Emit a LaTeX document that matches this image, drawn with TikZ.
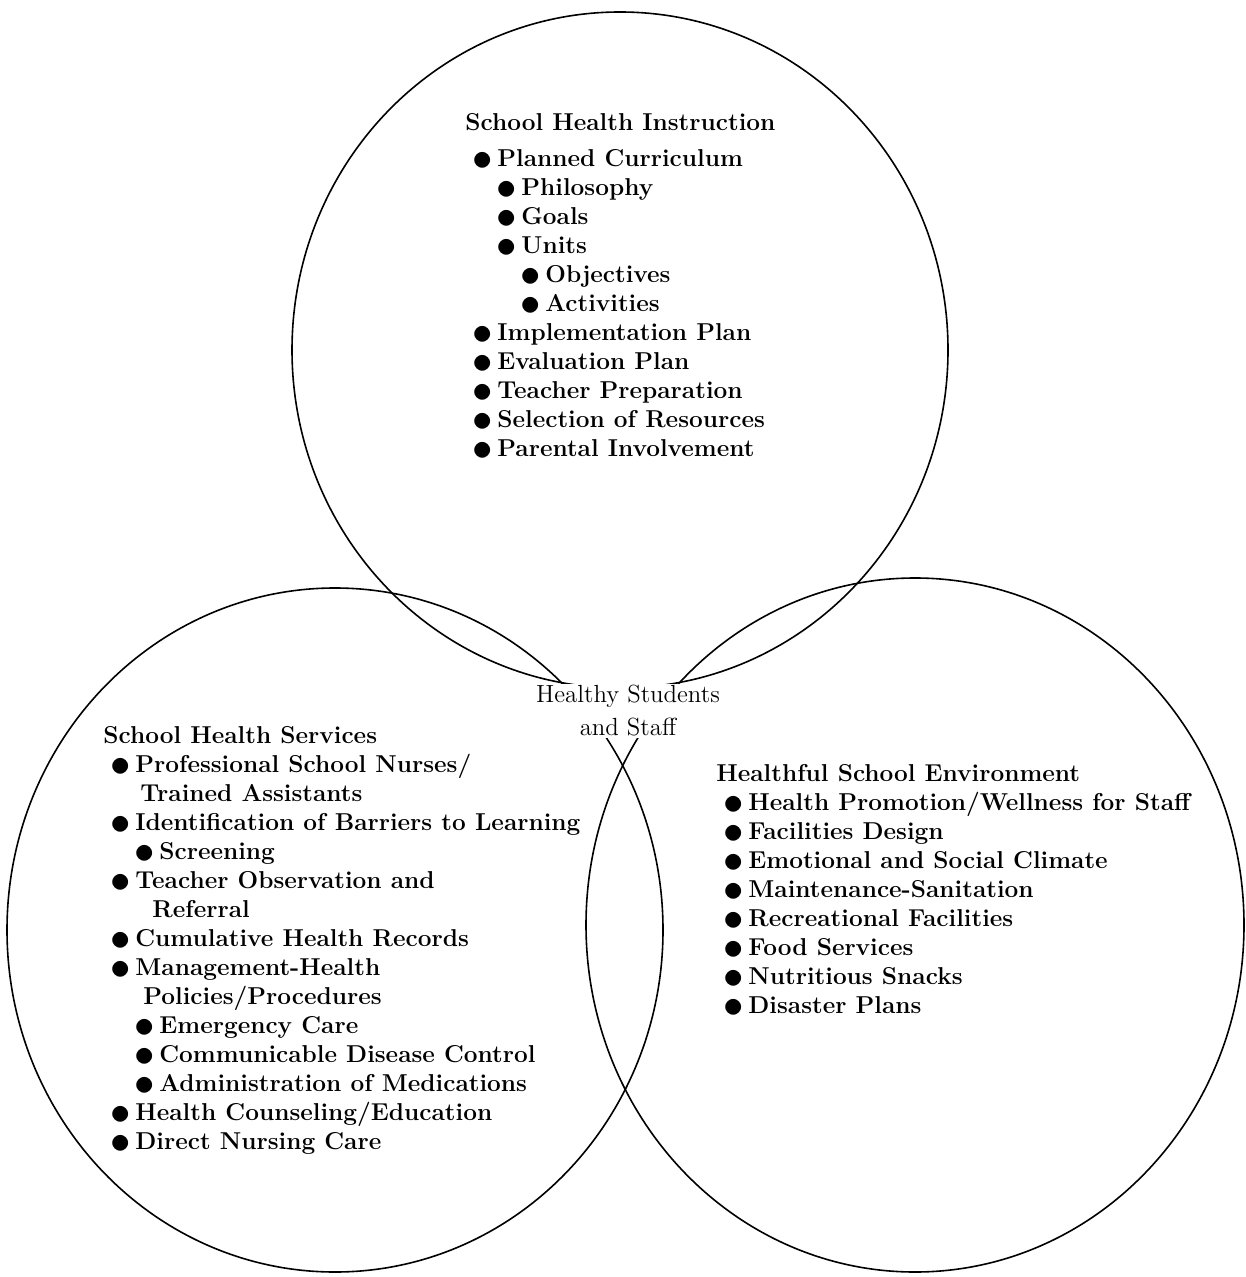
\documentclass[tikz,border=0pt]{standalone}
\usepackage{graphicx}
\usepackage{tikz}

% bullet with indent level (0,1,2)
\newcommand{\bl}[1]{\hspace*{\dimexpr3.5pt+#1\dimexpr12pt\relax\relax}\makebox[12.5pt][l]{\smash{\raisebox{-2.2pt}{\scalebox{1.7}{$\bullet$}}}}}

\begin{document}
\begin{tikzpicture}[x=0.5pt, y=-0.5pt,
  ring/.style={line width=0.8pt},
  list/.style={anchor=north west, inner sep=0pt, align=left,
    font=\bfseries\fontsize{12.2}{14.5}\selectfont}]
  \useasboundingbox (0,0) rectangle (1245,1277);

  % the three circles
  \draw[ring] (620,350) ellipse [x radius=164pt, y radius=169pt];
  \draw[ring] (335,930) ellipse [x radius=164pt, y radius=171pt];
  \draw[ring] (915,925) ellipse [x radius=164.5pt, y radius=173.5pt];

  % overlap label
  \node[fill=white, inner sep=1pt, align=center,
    font=\fontsize{12.4}{16.5}\selectfont] (hss) at (628,711)
    {Healthy Students\\and Staff};

  % school health instruction
  \node[list] (instr) at (465,113) {%
    School Health Instruction\\[3.5pt]
    \bl{0}Planned Curriculum\\
    \bl{1}Philosophy\\
    \bl{1}Goals\\
    \bl{1}Units\\
    \bl{2}Objectives\\
    \bl{2}Activities\\
    \bl{0}Implementation Plan\\
    \bl{0}Evaluation Plan\\
    \bl{0}Teacher Preparation\\
    \bl{0}Selection of Resources\\
    \bl{0}Parental Involvement};

  % school health services
  \node[list] (serv) at (103,726) {%
    School Health Services\\
    \bl{0}Professional School Nurses/\\
    \hspace*{18.5pt}Trained Assistants\\
    \bl{0}Identification of Barriers to Learning\\
    \bl{1}Screening\\
    \bl{0}Teacher Observation and\\
    \hspace*{24.5pt}Referral\\
    \bl{0}Cumulative Health Records\\
    \bl{0}Management-Health\\
    \hspace*{20pt}Policies/Procedures\\
    \bl{1}Emergency Care\\
    \bl{1}Communicable Disease Control\\
    \bl{1}Administration of Medications\\
    \bl{0}Health Counseling/Education\\
    \bl{0}Direct Nursing Care};

  % healthful school environment
  \node[list] (env) at (716,764) {%
    Healthful School Environment\\
    \bl{0}Health Promotion/Wellness for Staff\\
    \bl{0}Facilities Design\\
    \bl{0}Emotional and Social Climate\\
    \bl{0}Maintenance-Sanitation\\
    \bl{0}Recreational Facilities\\
    \bl{0}Food Services\\
    \bl{0}Nutritious Snacks\\
    \bl{0}Disaster Plans};
\end{tikzpicture}
\end{document}
